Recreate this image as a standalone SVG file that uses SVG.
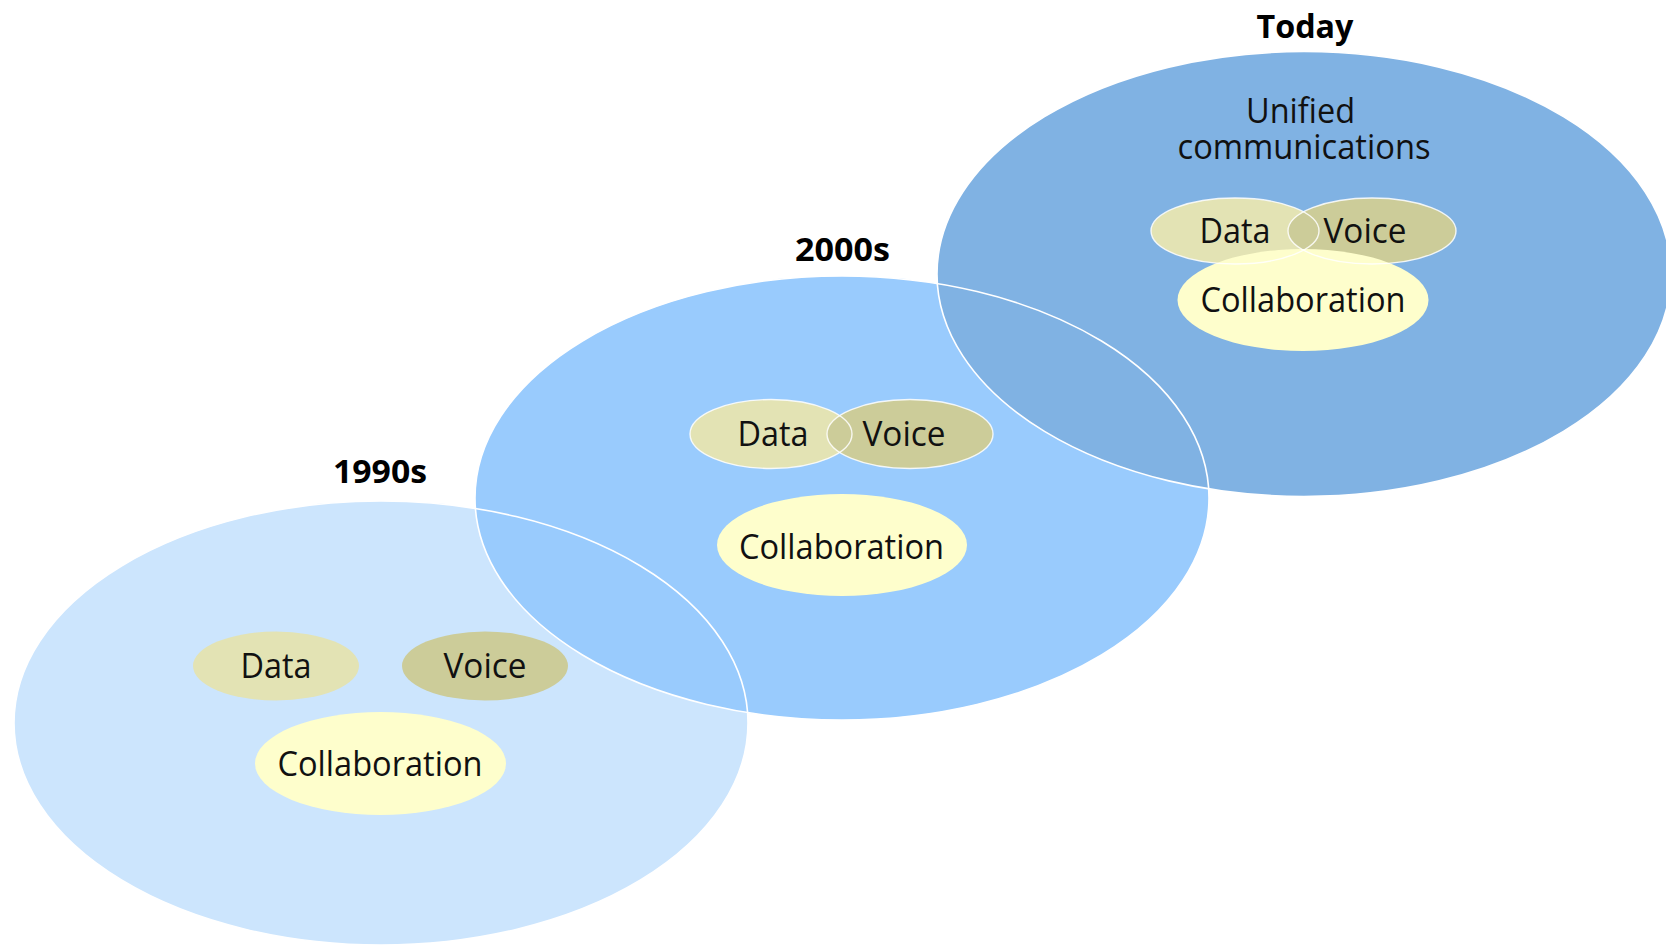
<svg xmlns="http://www.w3.org/2000/svg" width="1666" height="945" viewBox="0 0 1666 945">
<style>
.era-fill{stroke:none}
.ring{fill:none;stroke:#ffffff;stroke-width:1.6}
.data{fill:#E3E3B4}
.voice{fill:#CCCC99}
.collab{fill:#FEFECC}
.inner-ring{fill:none;stroke:#ffffff;stroke-width:1.4;stroke-opacity:0.85}
.lbl{font-family:"Open Sans","Noto Sans","Liberation Sans",sans-serif;font-size:34px;fill:#111111;text-anchor:middle}
.era{font-family:"Open Sans","Noto Sans","Liberation Sans",sans-serif;font-size:33px;font-weight:bold;fill:#000000;text-anchor:middle}
</style>
<rect width="1666" height="945" fill="#ffffff"/>

<g id="era-fills">
<ellipse id="e1990-fill" class="era-fill" cx="381" cy="723" rx="367" ry="222" fill="#CCE5FD"/>
<ellipse id="e2000-fill" class="era-fill" cx="842" cy="498" rx="367" ry="222" fill="#99CBFD"/>
<ellipse id="etoday-fill" class="era-fill" cx="1304" cy="274" rx="367" ry="222.5" fill="#80B2E3"/>
</g>
<g id="connectors">
<ellipse class="ring" cx="381" cy="723" rx="367" ry="222"/>
<ellipse class="ring" cx="842" cy="498" rx="367" ry="222"/>
<ellipse class="ring" cx="1304" cy="274" rx="367" ry="222.5"/>
</g>

<g id="node-1990s">
<text class="era" x="380" y="483" textLength="94" lengthAdjust="spacingAndGlyphs">1990s</text>
<ellipse class="data" cx="276" cy="666" rx="83" ry="34.5"/>
<ellipse class="voice" cx="485" cy="666" rx="83" ry="34.5"/>
<ellipse class="collab" cx="380.5" cy="763.5" rx="125.5" ry="51.5"/>
<text class="lbl" x="276" y="678" textLength="71" lengthAdjust="spacingAndGlyphs">Data</text>
<text class="lbl" x="485" y="678" textLength="83" lengthAdjust="spacingAndGlyphs">Voice</text>
<text class="lbl" x="380" y="776" textLength="205" lengthAdjust="spacingAndGlyphs">Collaboration</text>
</g>

<g id="node-2000s">
<text class="era" x="842.5" y="261" textLength="95" lengthAdjust="spacingAndGlyphs">2000s</text>
<ellipse class="data" cx="771" cy="434" rx="81" ry="34.5"/>
<ellipse class="voice" cx="910" cy="434" rx="83" ry="34.5"/>
<ellipse class="inner-ring" cx="771" cy="434" rx="81" ry="34.5"/>
<ellipse class="inner-ring" cx="910" cy="434" rx="83" ry="34.5"/>
<ellipse class="collab" cx="842" cy="545" rx="125" ry="51"/>
<text class="lbl" x="773" y="446" textLength="71" lengthAdjust="spacingAndGlyphs">Data</text>
<text class="lbl" x="904" y="446" textLength="83" lengthAdjust="spacingAndGlyphs">Voice</text>
<text class="lbl" x="841.5" y="559" textLength="205" lengthAdjust="spacingAndGlyphs">Collaboration</text>
</g>

<g id="node-today">
<text class="era" x="1305" y="38" textLength="97" lengthAdjust="spacingAndGlyphs">Today</text>
<text class="lbl" x="1300.5" y="123" textLength="109" lengthAdjust="spacingAndGlyphs">Unified</text>
<text class="lbl" x="1304" y="159" textLength="253" lengthAdjust="spacingAndGlyphs">communications</text>
<ellipse class="data" cx="1235" cy="231" rx="84" ry="33"/>
<ellipse class="voice" cx="1372" cy="231" rx="84" ry="33"/>
<ellipse class="collab" cx="1303" cy="300" rx="125.5" ry="51"/>
<ellipse class="inner-ring" cx="1235" cy="231" rx="84" ry="33"/>
<ellipse class="inner-ring" cx="1372" cy="231" rx="84" ry="33"/>
<text class="lbl" x="1235" y="243" textLength="71" lengthAdjust="spacingAndGlyphs">Data</text>
<text class="lbl" x="1365" y="243" textLength="83" lengthAdjust="spacingAndGlyphs">Voice</text>
<text class="lbl" x="1303" y="312" textLength="205" lengthAdjust="spacingAndGlyphs">Collaboration</text>
</g>
</svg>
